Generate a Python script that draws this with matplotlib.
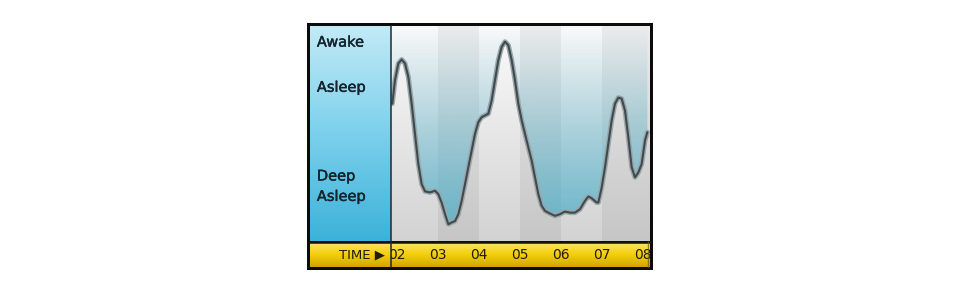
import numpy as np
import matplotlib
matplotlib.use('Agg')
import matplotlib.pyplot as plt
from matplotlib.patches import Rectangle
from matplotlib.colors import to_rgb
import matplotlib.patheffects as pe

# ---------------- data ----------------
hours = [2, 3, 4, 5, 6, 7, 8]
hour_labels = ['02', '03', '04', '05', '06', '07', '08']
level_labels = ['Awake', 'Asleep', 'Deep\nAsleep']
level_values = [92.5, 71.5, 25.5]

time_h = [1.886, 1.951, 2.033, 2.114, 2.195, 2.276, 2.358, 2.439, 2.520, 2.602,
          2.683, 2.805, 2.927, 3.008, 3.089, 3.171, 3.252, 3.333, 3.415, 3.496,
          3.577, 3.659, 3.740, 3.821, 3.902, 3.984, 4.065, 4.146, 4.228, 4.309,
          4.390, 4.471, 4.553, 4.634, 4.715, 4.797, 4.878, 4.959, 5.041, 5.122,
          5.203, 5.285, 5.366, 5.447, 5.528, 5.610, 5.732, 5.854, 5.976, 6.098,
          6.220, 6.341, 6.463, 6.585, 6.667, 6.748, 6.870, 6.911, 6.992, 7.073,
          7.154, 7.236, 7.317, 7.398, 7.480, 7.561, 7.642, 7.724, 7.805, 7.886,
          7.967, 8.049, 8.106]
sleep_level = [63.9, 74.8, 82.6, 84.4, 82.6, 76.3, 63.9, 49.8, 35.8, 26.5,
               23.1, 22.6, 23.4, 21.8, 17.9, 12.5, 7.8, 8.6, 9.3, 12.5,
               18.7, 26.5, 34.3, 42.1, 49.8, 55.3, 57.6, 58.4, 59.2, 65.4,
               74.8, 84.1, 90.3, 92.7, 91.1, 84.1, 74.8, 63.9, 56.1, 49.8,
               43.6, 37.4, 29.6, 21.8, 16.4, 14.0, 12.8, 11.7, 12.5, 13.7,
               13.2, 13.2, 14.8, 18.7, 20.7, 19.9, 17.9, 17.9, 24.9, 34.3,
               45.2, 56.1, 63.9, 66.7, 66.2, 60.7, 48.3, 34.3, 29.6, 31.9,
               35.8, 46.7, 50.6]

# ---------------- layout helpers ----------------
W, H = 960, 296
fig = plt.figure(figsize=(W / 100, H / 100), dpi=100)
fig.patch.set_facecolor('white')


def px_axes(x0, y0, x1, y1, **kw):
    ax = fig.add_axes([x0 / W, 1 - y1 / H, (x1 - x0) / W, (y1 - y0) / H], **kw)
    ax.set_axis_off()
    return ax


def vgrad(c_top, c_bot, n=256, mid=None):
    t = np.linspace(0, 1, n)[:, None]
    top = np.array(to_rgb(c_top))
    bot = np.array(to_rgb(c_bot))
    if mid is not None:
        m = np.array(to_rgb(mid))
        out = np.where(t < 0.5, top + (m - top) * (t / 0.5), m + (bot - m) * ((t - 0.5) / 0.5))
    else:
        out = top + (bot - top) * t
    return out.reshape(n, 1, 3)


# outer black frame (background axes)
axf = px_axes(307, 23, 653, 270, zorder=-5)
axf.add_patch(Rectangle((0, 0), 1, 1, transform=axf.transAxes,
                        facecolor='#0b0b0b', edgecolor='none'))

XL = (1.8537, 8.1707)
YL = (0, 100)

# ---------------- left blue panel ----------------
axp = px_axes(310, 26, 391, 241)
axp.imshow(vgrad('#c2eaf7', '#3cb2d9', mid='#7cd0ec'), extent=(0, 1, 0, 100),
           aspect='auto', origin='upper')
axp.set_xlim(0, 1)
axp.set_ylim(*YL)
bold_fx = [pe.withStroke(linewidth=0.3, foreground='#14232c')]
for lab, v in zip(level_labels, level_values):
    axp.text(0.085, v, lab, ha='left', va='center', fontsize=10.5,
             color='#14232c', family='DejaVu Sans', linespacing=1.45,
             path_effects=bold_fx)

# ---------------- main plot ----------------
ax = px_axes(391, 26, 650, 241)
ax.set_xlim(*XL)
ax.set_ylim(*YL)

edges = [XL[0]] + hours[1:-1] + [XL[1]]
for i in range(len(edges) - 1):
    if i % 2 == 0:
        g = vgrad('#fbfbfb', '#d3d3d3')
    else:
        g = vgrad('#ededed', '#c6c6c6')
    ax.imshow(g, extent=(edges[i], edges[i + 1], 0, 100), aspect='auto',
              origin='upper', zorder=1)

# blue gradient above the curve
n = 256
alpha = np.linspace(0.02, 0.82, n) ** 1.1
rgba = np.zeros((n, 1, 4))
rgba[..., :3] = to_rgb('#47adc8')
rgba[:, 0, 3] = alpha
poly = ax.fill_between(time_h, sleep_level, 100, facecolor='none',
                       edgecolor='none', zorder=2)
im = ax.imshow(rgba, extent=(XL[0], XL[1], 0, 100), aspect='auto',
               origin='upper', zorder=2)
im.set_clip_path(poly.get_paths()[0], transform=ax.transData)

ax.plot(time_h, sleep_level, color='#3d4a4f', lw=1.5, zorder=4,
        solid_capstyle='round', solid_joinstyle='round',
        path_effects=[pe.Stroke(linewidth=3.6, foreground='#9ba6a9'), pe.Normal()])
ax.set_xlim(*XL)
ax.set_ylim(*YL)

# ---------------- yellow time bar ----------------
ybar = vgrad('#fbe46e', '#cfa600', mid='#f3cf0a')
axy0 = px_axes(310, 242, 391, 267)
axy0.imshow(ybar, extent=(0, 1, 0, 1), aspect='auto', origin='upper')
axy0.set_xlim(0, 1)
axy0.set_ylim(0, 1)
axy0.text(0.93, 0.48, 'TIME \u25B6', ha='right', va='center', fontsize=9.5,
          color='#221d08')

axy = px_axes(391, 242, 650, 267)
axy.imshow(ybar, extent=(XL[0], XL[1], 0, 1), aspect='auto', origin='upper')
axy.set_xlim(*XL)
axy.set_ylim(0, 1)
for h, lab in zip(hours, hour_labels):
    axy.text(h, 0.48, lab, ha='center', va='center', fontsize=10,
             color='#221d08', clip_on=True)

# separators
fig.add_artist(plt.Line2D([310 / W, 650 / W], [1 - 241.5 / H] * 2,
                          color='#111111', lw=1.8, transform=fig.transFigure))
fig.add_artist(plt.Line2D([391 / W] * 2, [1 - 26 / H, 1 - 267 / H],
                          color='#1e2a2e', lw=1.1, transform=fig.transFigure))
fig.add_artist(plt.Line2D([647.5 / W] * 2, [1 - 242 / H, 1 - 267 / H],
                          color='#6b5a10', lw=1.0, alpha=0.7, transform=fig.transFigure))

fig.savefig('out.png', dpi=100, facecolor='white')
